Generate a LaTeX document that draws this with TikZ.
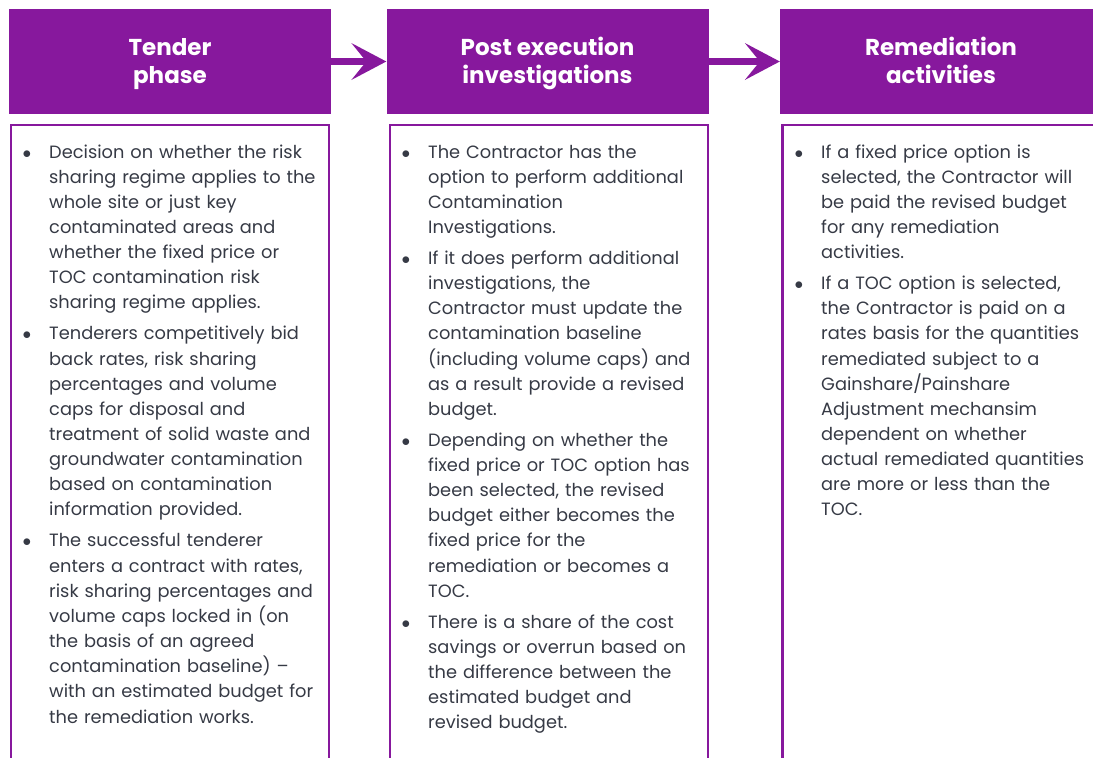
\documentclass[tikz,border=0pt]{standalone}
\usepackage{fontspec}
\setmainfont{Poppins}
\usetikzlibrary{arrows.meta}
\definecolor{vicpurple}{HTML}{87189D}
\definecolor{bodytext}{HTML}{363A45}
\newcommand{\bul}{\leavevmode\llap{$\bullet$\hspace{18pt}}}
\tikzset{
  hdr/.style={fill=vicpurple, draw=none, minimum width=322pt, minimum height=105pt, inner sep=0pt},
  hdrtxt/.style={text=white, font=\fontsize{23}{28}\selectfont\bfseries, align=center, inner sep=0pt},
  bodybox/.style={draw=vicpurple, line width=2.8pt, fill=none, anchor=north west,
    minimum width=318pt, minimum height=660pt, inner sep=0pt},
  bodytxt/.style={anchor=base west, inner sep=0pt, text width=300pt, align=left,
    text=bodytext, font=\fontsize{17.8}{25.15}\selectfont},
  flow/.style={draw=vicpurple, line width=7pt,
    -{Stealth[length=35pt, width=37pt, inset=15pt, line width=0pt]}}
}
\begin{document}
\begin{tikzpicture}[x=1pt, y=-1pt]
\useasboundingbox (0,0) rectangle (1093,758);
% headers
\node[hdr] (h1) at (170,61.5) {};
\node[hdr] (h2) at (547.5,61.5) {};
\node[hdr] (h3) at (941,61.5) {};
\node[hdrtxt] (h1t) at (170,64.5) {Tender\\phase};
\node[hdrtxt] (h2t) at (547.5,63.5) {Post execution\\investigations};
\node[hdrtxt] (h3t) at (941,60.5) {Remediation\\activities};
\draw[flow] (h1.east) -- (h2.west);
\draw[flow] (h2.east) -- (h3.west);
% body boxes
\node[bodybox] (b1) at (9.5,123.5) {};
\node[bodybox] (b2) at (388.5,123.5) {};
\node[bodybox] (b3) at (781,123.5) {};
% texts
\node[bodytxt] (t1) at (49,158) {\setlength{\parskip}{5.85pt}%
\bul Decision on whether the risk\\ sharing regime applies to the\\ whole site or just key\\ contaminated areas and\\ whether the fixed price or\\ TOC contamination risk\\ sharing regime applies.\par
\bul Tenderers competitively bid\\ back rates, risk sharing\\ percentages and volume\\ caps for disposal and\\ treatment of solid waste and\\ groundwater contamination\\ based on contamination\\ information provided.\par
\bul The successful tenderer\\ enters a contract with rates,\\ risk sharing percentages and\\ volume caps locked in (on\\ the basis of an agreed\\ contamination baseline) –\\ with an estimated budget for\\ the remediation works.};
\node[bodytxt] (t2) at (428,158) {\setlength{\parskip}{5.85pt}%
\bul The Contractor has the\\ option to perform additional\\ Contamination\\ Investigations.\par
\bul If it does perform additional\\ investigations, the\\ Contractor must update the\\ contamination baseline\\ (including volume caps) and\\ as a result provide a revised\\ budget.\par
\bul Depending on whether the\\ fixed price or TOC option has\\ been selected, the revised\\ budget either becomes the\\ fixed price for the\\ remediation or becomes a\\ TOC.\par
\bul There is a share of the cost\\ savings or overrun based on\\ the difference between the\\ estimated budget and\\ revised budget.};
\node[bodytxt] (t3) at (821,158) {\setlength{\parskip}{5.85pt}%
\bul If a fixed price option is\\ selected, the Contractor will\\ be paid the revised budget\\ for any remediation\\ activities.\par
\bul If a TOC option is selected,\\ the Contractor is paid on a\\ rates basis for the quantities\\ remediated subject to a\\ Gainshare/Painshare\\ Adjustment mechansim\\ dependent on whether\\ actual remediated quantities\\ are more or less than the\\ TOC.};
\end{tikzpicture}
\end{document}
